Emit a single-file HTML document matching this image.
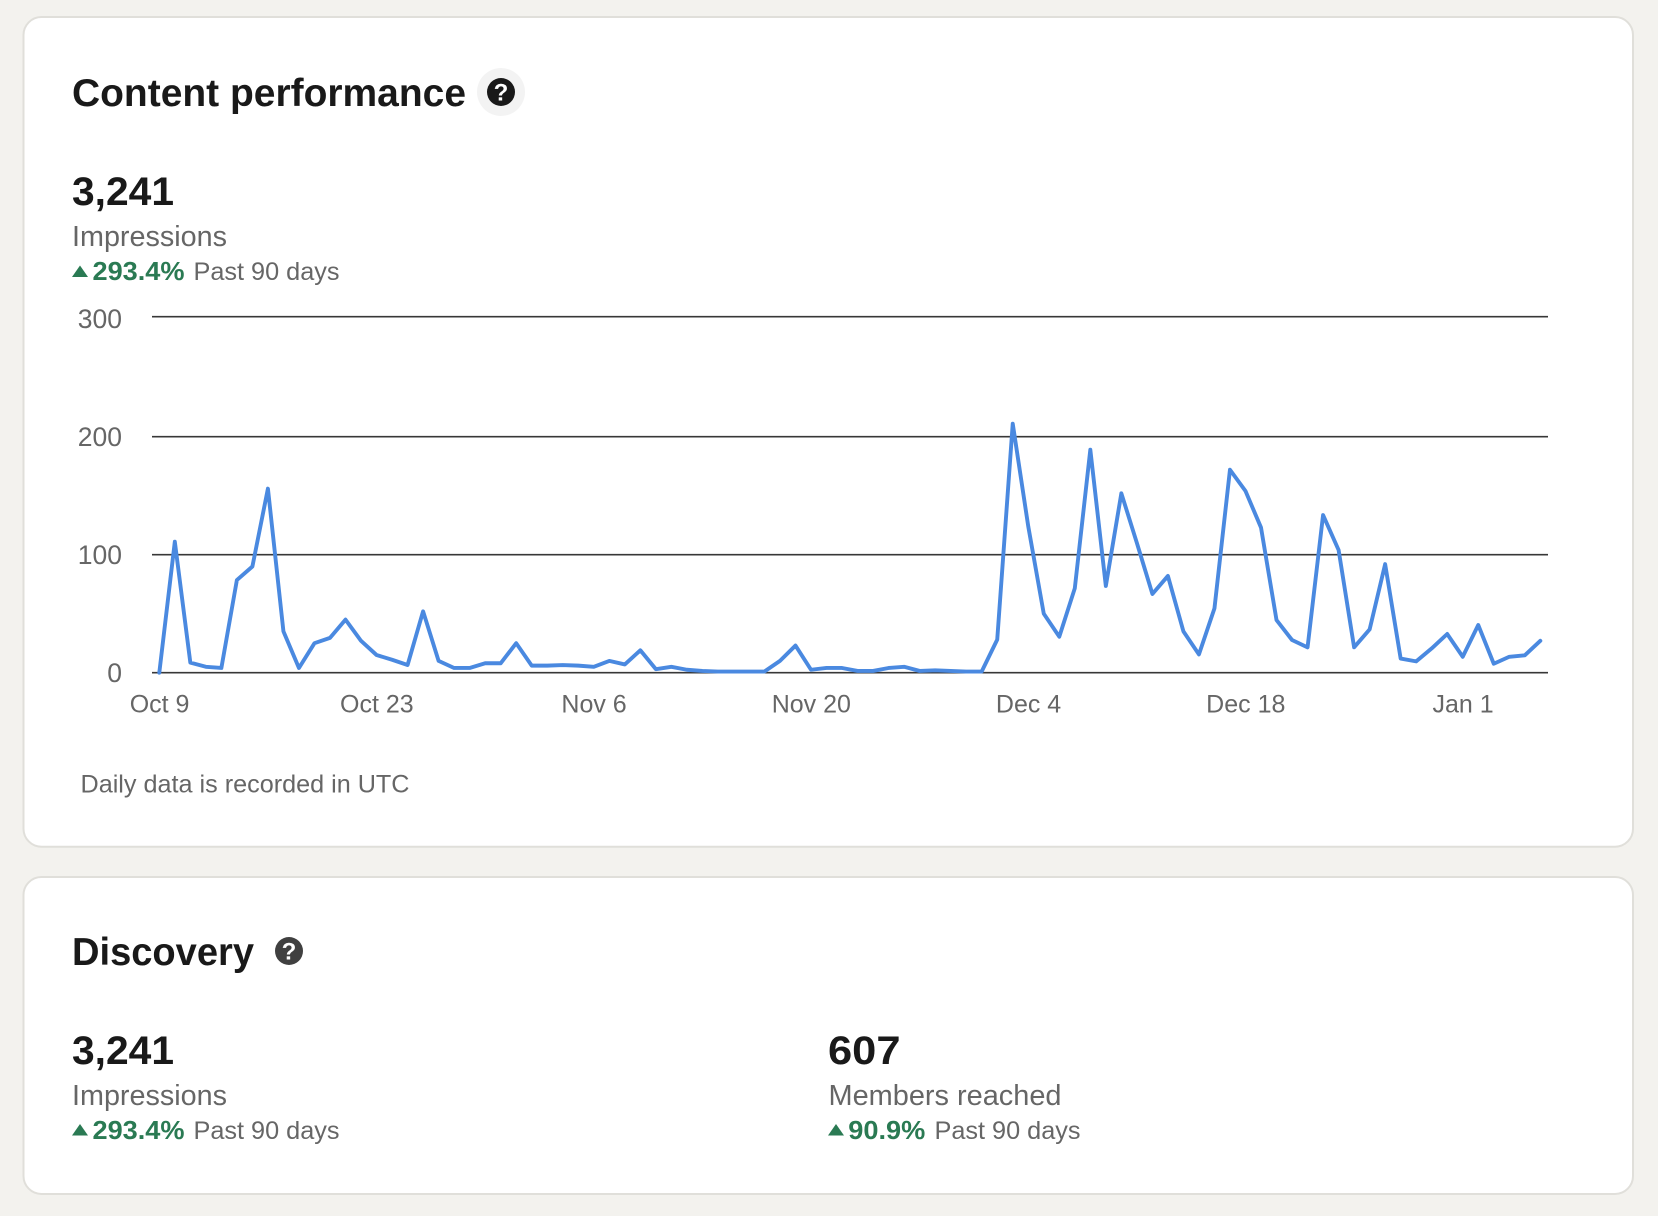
<!DOCTYPE html>
<html lang="en">
<head>
<meta charset="utf-8">
<title>Content performance</title>
<style>
html,body{margin:0;padding:0;background:#f3f2ee;}
svg{display:block;font-family:"Liberation Sans",Arial,sans-serif;}
.h{font-weight:700;fill:#191919;font-size:39px;}
.num{font-weight:700;fill:#191919;font-size:40px;}
.lab{fill:#666666;font-size:28.5px;}
.pct{font-weight:700;fill:#2a7a53;font-size:26px;}
.past{fill:#666666;font-size:25px;}
.tick{fill:#666666;font-size:25px;}
.ytick{fill:#666666;font-size:26.5px;}
.q{font-weight:700;fill:#ffffff;font-size:24px;text-anchor:middle;}
</style>
</head>
<body>
<svg id="root" width="1658" height="1216" viewBox="0 0 1658 1216" xmlns="http://www.w3.org/2000/svg">
  <rect x="0" y="0" width="1658" height="1216" fill="#f3f2ee"/>

  <g>
    <rect x="23.5" y="17" width="1609.5" height="829.7" rx="18" fill="#ffffff" stroke="#e0dfda" stroke-width="2"/>
    <text class="h" x="72" y="106" textLength="394" lengthAdjust="spacingAndGlyphs">Content performance</text>
    <g>
      <circle cx="501" cy="92" r="24" fill="#f3f3f3"/>
      <circle cx="501" cy="92" r="14" fill="#191919"/>
      <text class="q" x="501" y="100.5">?</text>
    </g>
    <text class="num" x="72" y="205" textLength="102" lengthAdjust="spacingAndGlyphs">3,241</text>
    <text class="lab" x="72" y="246" textLength="155" lengthAdjust="spacingAndGlyphs">Impressions</text>
    <polygon points="72,277 88,277 80,265.5" fill="#2a7a53"/>
    <text class="pct" x="92.5" y="280" textLength="92" lengthAdjust="spacingAndGlyphs">293.4%</text>
    <text class="past" x="193.5" y="280" textLength="146" lengthAdjust="spacingAndGlyphs">Past 90 days</text>

    <g id="chart"></g>

    <text class="past" x="80.5" y="792.5" textLength="329" lengthAdjust="spacingAndGlyphs">Daily data is recorded in UTC</text>
  </g>

  <g>
    <rect x="23.5" y="877" width="1609.5" height="317" rx="18" fill="#ffffff" stroke="#e0dfda" stroke-width="2"/>
    <text class="h" x="72" y="965" textLength="182" lengthAdjust="spacingAndGlyphs">Discovery</text>
    <g>
      <circle cx="289" cy="951" r="14" fill="#404040"/>
      <text class="q" x="289" y="959.5">?</text>
    </g>

    <g>
      <text class="num" x="72" y="1064" textLength="102" lengthAdjust="spacingAndGlyphs">3,241</text>
      <text class="lab" x="72" y="1105" textLength="155" lengthAdjust="spacingAndGlyphs">Impressions</text>
      <polygon points="72,1135.5 88,1135.5 80,1124" fill="#2a7a53"/>
      <text class="pct" x="92.5" y="1139" textLength="92" lengthAdjust="spacingAndGlyphs">293.4%</text>
      <text class="past" x="193.5" y="1139" textLength="146" lengthAdjust="spacingAndGlyphs">Past 90 days</text>
    </g>

    <g>
      <text class="num" x="828" y="1064" textLength="72.5" lengthAdjust="spacingAndGlyphs">607</text>
      <text class="lab" x="828.5" y="1105" textLength="233" lengthAdjust="spacingAndGlyphs">Members reached</text>
      <polygon points="828,1135.5 844,1135.5 836,1124" fill="#2a7a53"/>
      <text class="pct" x="848.3" y="1139" textLength="77" lengthAdjust="spacingAndGlyphs">90.9%</text>
      <text class="past" x="934.5" y="1139" textLength="146" lengthAdjust="spacingAndGlyphs">Past 90 days</text>
    </g>
  </g>
</svg>
<script>
const impressions = [
  0,111,8.5,5,4,78.5,90,156,35,4,
  25,29.5,45,27,15,11,6.5,52,10,4,
  4,8,8,25,6,6,6.5,6,5,10,
  7,19,3,5,2.5,1.5,1,1,1,1,
  10,23,2.5,4,4,1.5,1.5,4,5,1.5,
  2,1.5,1,1,28,211,124,50,30.5,71.5,
  189,73.5,152,110,66.7,82,35,15.5,54.5,172,
  154,123,44.6,27.7,21.5,133.6,104,21.5,36.7,92,
  12,9.6,20.6,32.8,13.5,40.4,7.6,13.5,14.7,27
];
const yTicks = [0,100,200,300];
const xTickIndexes = [0,14,28,42,56,70,84];
const xTickLabels = ["Oct 9","Oct 23","Nov 6","Nov 20","Dec 4","Dec 18","Jan 1"];

const NS = "http://www.w3.org/2000/svg";
const chart = document.getElementById("chart");
const plotLeft = 152, plotRight = 1548, plotTop = 316.7;
const baseY = 672.7, pxPerUnit = 1.18;
const firstX = 159.3, stepX = 15.517;
const xScale = function (i) { return firstX + stepX * i; };
const yScale = function (v) { return baseY - pxPerUnit * v; };
const maxTick = Math.max.apply(null, yTicks);

yTicks.forEach(function (t) {
  const gy = t === maxTick ? plotTop : yScale(t);
  const line = document.createElementNS(NS, "line");
  line.setAttribute("x1", plotLeft);
  line.setAttribute("x2", plotRight);
  line.setAttribute("y1", gy);
  line.setAttribute("y2", gy);
  line.setAttribute("stroke", "#383838");
  line.setAttribute("stroke-width", "1.6");
  
  
  chart.appendChild(line);

  const label = document.createElementNS(NS, "text");
  label.setAttribute("class", "ytick");
  label.setAttribute("x", 122);
  label.setAttribute("y", yScale(t) + 9.5);
  label.setAttribute("text-anchor", "end");
  
  
  label.textContent = String(t);
  chart.appendChild(label);
});

xTickIndexes.forEach(function (idx, n) {
  const label = document.createElementNS(NS, "text");
  label.setAttribute("class", "tick");
  label.setAttribute("x", xScale(idx) + 0.3);
  label.setAttribute("y", 712.5);
  label.setAttribute("text-anchor", "middle");
  
  
  label.textContent = xTickLabels[n];
  chart.appendChild(label);
});

const series = document.createElementNS(NS, "polyline");
series.setAttribute("points", impressions.map(function (v, i) {
  return xScale(i).toFixed(2) + "," + yScale(v).toFixed(2);
}).join(" "));
series.setAttribute("fill", "none");
series.setAttribute("stroke", "#4a89e0");
series.setAttribute("stroke-width", "3.9");
series.setAttribute("stroke-linejoin", "round");
series.setAttribute("stroke-linecap", "round");


chart.appendChild(series);
</script>
</body>
</html>
